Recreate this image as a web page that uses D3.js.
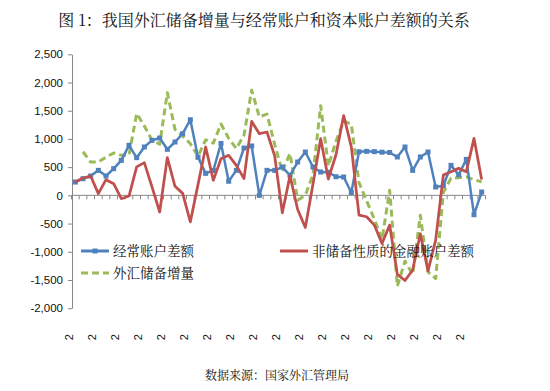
<!DOCTYPE html>
<html>
<head>
<meta charset="utf-8">
<script src="https://d3js.org/d3.v7.min.js"></script>
<style>
  body { margin: 0; background: #fff; }
  svg { display: block; }
</style>
</head>
<body>
<script>
  // quarterly data, 2005Q1 - 2018Q2 (亿美元)
  const categories = [
    "2005Q1","2005Q2","2005Q3","2005Q4","2006Q1","2006Q2","2006Q3","2006Q4",
    "2007Q1","2007Q2","2007Q3","2007Q4","2008Q1","2008Q2","2008Q3","2008Q4",
    "2009Q1","2009Q2","2009Q3","2009Q4","2010Q1","2010Q2","2010Q3","2010Q4",
    "2011Q1","2011Q2","2011Q3","2011Q4","2012Q1","2012Q2","2012Q3","2012Q4",
    "2013Q1","2013Q2","2013Q3","2013Q4","2014Q1","2014Q2","2014Q3","2014Q4",
    "2015Q1","2015Q2","2015Q3","2015Q4","2016Q1","2016Q2","2016Q3","2016Q4",
    "2017Q1","2017Q2","2017Q3","2017Q4","2018Q1","2018Q2"
  ];

  const currentAccount = [
    236, 295, 343, 443, 343, 473, 620, 887, 668, 857, 975, 1016, 816, 946, 1093, 1340,
    674, 390, 440, 920, 250, 443, 839, 875, 0, 443, 443, 502, 355, 591, 768, 502,
    414, 410, 330, 325, 50, 773, 780, 775, 765, 760, 680, 857, 443, 680, 768, 148,
    170, 532, 366, 638, -343, 59
  ];

  const financialAccount = [
    236, 307, 343, 30, 278, 207, -59, -12, 505, 580, 150, -295, 670, 160, 35, -470,
    190, 857, 266, 650, 709, 532, 296, 1312, 1093, 1123, 700, -310, 350, -250, -570, 200,
    1005, 290, 720, 1415, 860, -349, -379, -527, -851, -527, -1400, -1510, -1324, -680, -1340, -793,
    360, 419, 478, 419, 1010, 283
  ];

  const reserveChange = [
    null, 773, 590, 590, 680, 750, 710, 712, 1450, 1230, 978, 905, 1820, 1170, 1050, 916,
    690, 985, 925, 1265, 1010, 830, 1066, 1865, 1392, 1440, 905, 420, 742, -85, 0, 370,
    1590, 520, 960, 1320, 1260, 225, -100, -420, -780, 90, -1610, -1165, -1400, -352, -1355, -1475,
    50, 305, 312, 328, 278, 238
  ];

  const yTicks = [-2000, -1500, -1000, -500, 0, 500, 1000, 1500, 2000, 2500];
  const xTickLabels = ["2","2","2","2","2","2","2","2","2","2","2","2","2","2","2","2","2","2"];

  const seriesNames = ["经常账户差额", "非储备性质的金融账户差额", "外汇储备增量"];

  const width = 550, height = 391;
  const cjk = "'Noto Serif CJK SC', 'Noto Sans CJK SC', serif";
  const latin = "'Liberation Sans', Arial, Helvetica, sans-serif";

  const svg = d3.select("body").append("svg")
    .attr("width", width)
    .attr("height", height);

  const x = d3.scaleBand()
    .domain(d3.range(categories.length))
    .range([71.5, 485.5])
    .padding(0);

  const y = d3.scaleLinear()
    .domain([-2000, 2500])
    .range([308.2, 54.3]);

  const fmt = d3.formatLocale({decimal: ".", thousands: ",", grouping: [3], currency: ["", ""], minus: "-"}).format(",");

  // title
  svg.append("text")
    .attr("x", 264)
    .attr("y", 26)
    .attr("text-anchor", "middle")
    .style("font-family", cjk)
    .style("font-size", "16px")
    .attr("fill", "#111")
    .text("图 1：我国外汇储备增量与经常账户和资本账户差额的关系");

  // y axis
  const yAxis = svg.append("g")
    .attr("transform", "translate(72,0)")
    .call(d3.axisLeft(y).tickValues(yTicks).tickSize(4).tickSizeOuter(0).tickFormat(fmt).tickPadding(5));
  yAxis.select(".domain").attr("stroke", "#888");
  yAxis.selectAll(".tick line").attr("stroke", "#888");
  yAxis.selectAll(".tick text")
    .style("font-family", latin)
    .style("font-size", "11.5px")
    .attr("fill", "#111");

  // x axis on zero line, ticks at every category boundary
  const step = x.step();
  const bounds = d3.range(categories.length + 1).map(i => x.range()[0] + i * step);
  const xg = svg.append("g");
  xg.append("line")
    .attr("x1", x.range()[0]).attr("x2", x.range()[1])
    .attr("y1", y(0)).attr("y2", y(0))
    .attr("stroke", "#888");
  xg.selectAll("line.tk")
    .data(bounds)
    .enter()
    .append("line")
    .attr("class", "tk")
    .attr("x1", d => d).attr("x2", d => d)
    .attr("y1", y(0)).attr("y2", y(0) + 4)
    .attr("stroke", "#888");

  // category labels (every third quarter), shown at the bottom
  xg.selectAll("text.lab")
    .data(xTickLabels)
    .enter()
    .append("text")
    .attr("class", "lab")
    .attr("transform", (d, i) => "translate(" + (bounds[i * 3] + 1) + ",334) rotate(-90)")
    .attr("text-anchor", "end")
    .style("font-family", latin)
    .style("font-size", "11px")
    .attr("fill", "#111")
    .text(d => d);

  const cx = i => x(i) + x.bandwidth() / 2;

  const line = d3.line()
    .defined(d => d != null)
    .x((d, i) => cx(i))
    .y(d => y(d));

  // green dashed
  svg.append("path")
    .datum(reserveChange)
    .attr("d", line)
    .attr("fill", "none")
    .attr("stroke", "#9BBB59")
    .attr("stroke-width", 3)
    .attr("stroke-dasharray", "7,4")
    .attr("stroke-linejoin", "round");

  // blue with square markers
  svg.append("path")
    .datum(currentAccount)
    .attr("d", line)
    .attr("fill", "none")
    .attr("stroke", "#4F81BD")
    .attr("stroke-width", 2.5)
    .attr("stroke-linejoin", "round");

  svg.selectAll("rect.mk")
    .data(currentAccount)
    .enter()
    .append("rect")
    .attr("class", "mk")
    .attr("x", (d, i) => cx(i) - 2.5)
    .attr("y", d => y(d) - 2.5)
    .attr("width", 5)
    .attr("height", 5)
    .attr("fill", "#4F81BD");

  // red
  svg.append("path")
    .datum(financialAccount)
    .attr("d", line)
    .attr("fill", "none")
    .attr("stroke", "#C0504D")
    .attr("stroke-width", 2.75)
    .attr("stroke-linejoin", "round");

  // legend
  const legend = [
    {name: seriesNames[0], color: "#4F81BD", dash: null, marker: true, lx: 81, ly: 251},
    {name: seriesNames[1], color: "#C0504D", dash: null, marker: false, lx: 280, ly: 251},
    {name: seriesNames[2], color: "#9BBB59", dash: "7,4", marker: false, lx: 81, ly: 273}
  ];
  const lg = svg.selectAll("g.lg")
    .data(legend)
    .enter()
    .append("g")
    .attr("transform", d => "translate(" + d.lx + "," + d.ly + ")");
  lg.append("line")
    .attr("x1", 0).attr("x2", 28)
    .attr("stroke", d => d.color)
    .attr("stroke-width", 3)
    .attr("stroke-dasharray", d => d.dash);
  lg.filter(d => d.marker).append("rect")
    .attr("x", 11.5).attr("y", -2.5)
    .attr("width", 5).attr("height", 5)
    .attr("fill", d => d.color);
  lg.append("text")
    .attr("x", 32)
    .attr("y", 4.5)
    .style("font-family", cjk)
    .style("font-size", "13.5px")
    .attr("fill", "#111")
    .text(d => d.name);

  // source
  svg.append("text")
    .attr("x", 277)
    .attr("y", 380)
    .attr("text-anchor", "middle")
    .style("font-family", cjk)
    .style("font-size", "12px")
    .attr("fill", "#111")
    .text("数据来源：国家外汇管理局");
</script>
</body>
</html>
